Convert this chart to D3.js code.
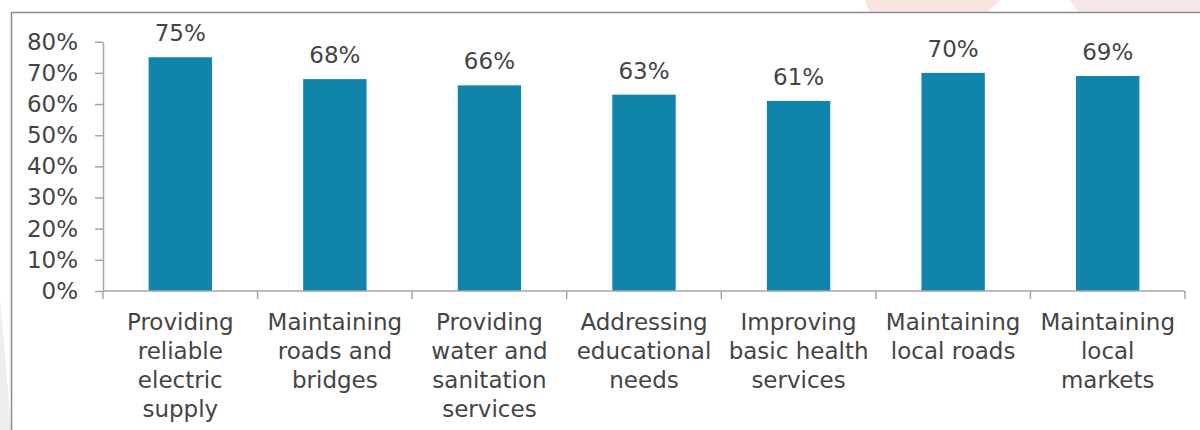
<!DOCTYPE html>
<html>
<head>
<meta charset="utf-8">
<script src="https://cdn.jsdelivr.net/npm/d3@7"></script>
<style>
  body { margin: 0; background: #fff; }
  svg { display: block; }
</style>
</head>
<body>
<svg id="chart" width="1200" height="430"></svg>
<script>
// Data
const categories = [
  "Providing reliable electric supply",
  "Maintaining roads and bridges",
  "Providing water and sanitation services",
  "Addressing educational needs",
  "Improving basic health services",
  "Maintaining local roads",
  "Maintaining local markets"
];
// how each category label wraps
const labelLines = [
  ["Providing", "reliable", "electric", "supply"],
  ["Maintaining", "roads and", "bridges"],
  ["Providing", "water and", "sanitation", "services"],
  ["Addressing", "educational", "needs"],
  ["Improving", "basic health", "services"],
  ["Maintaining", "local roads"],
  ["Maintaining", "local", "markets"]
];
const values = [0.75, 0.68, 0.66, 0.63, 0.61, 0.70, 0.69];
const yTicks = [0, 0.1, 0.2, 0.3, 0.4, 0.5, 0.6, 0.7, 0.8];

const svg = d3.select("#chart"),
  width = +svg.attr("width"),
  height = +svg.attr("height");

const font = "'DejaVu Sans', sans-serif";
const textColor = "#444";
const axisColor = "#a6a6a6";

// faint watermark shapes behind the frame
const bg = svg.append("g");
bg.append("path")
  .attr("d", "M865,0 L1000,0 L985,14 L870,14 Z")
  .attr("fill", "#f6d2cc")
  .attr("opacity", 0.6);
bg.append("path")
  .attr("d", "M1070,0 L1200,0 L1200,14 L1080,14 Z")
  .attr("fill", "#f0d6d6")
  .attr("opacity", 0.6);
bg.append("path")
  .attr("d", "M0,300 Q6,360 11,430 L0,430 Z")
  .attr("fill", "#eeeeee");

// chart frame
svg.append("rect")
  .attr("x", 11.5)
  .attr("y", 12.5)
  .attr("width", 1200)
  .attr("height", 430)
  .attr("fill", "#fff")
  .attr("stroke", "#8c8c8c")
  .attr("stroke-width", 1.5);

// scales
const x = d3.scaleBand()
  .domain(categories)
  .range([103, 1185])
  .paddingInner(0.59)
  .paddingOuter(0.295);

const y = d3.scaleLinear()
  .domain([0, 0.8])
  .range([291, 41.7]);

// y axis
const yAxis = svg.append("g")
  .attr("transform", "translate(103,0)")
  .call(d3.axisLeft(y)
    .tickValues(yTicks)
    .tickFormat(d3.format(".0%"))
    .tickSize(8)
    .tickSizeOuter(0)
    .tickPadding(17));
yAxis.select(".domain").attr("stroke", axisColor).attr("stroke-width", 1.5);
yAxis.selectAll(".tick line").attr("stroke", axisColor).attr("stroke-width", 1.5);
yAxis.selectAll(".tick text")
  .attr("fill", textColor)
  .style("font-family", font)
  .style("font-size", "23px");

// bars
svg.append("g")
  .selectAll("rect")
  .data(values)
  .join("rect")
  .attr("x", (d, i) => x(categories[i]))
  .attr("y", (d) => y(d))
  .attr("width", x.bandwidth())
  .attr("height", (d) => y(0) - y(d))
  .attr("fill", "#1184ab");

// x axis line and band boundary ticks
const x0 = x.range()[0], x1 = x.range()[1];
svg.append("line")
  .attr("x1", x0)
  .attr("x2", x1)
  .attr("y1", y(0))
  .attr("y2", y(0))
  .attr("stroke", axisColor)
  .attr("stroke-width", 1.5);

const bounds = d3.range(categories.length + 1).map((i) => x0 + i * x.step());
svg.append("g")
  .selectAll("line")
  .data(bounds)
  .join("line")
  .attr("x1", (d) => d)
  .attr("x2", (d) => d)
  .attr("y1", y(0))
  .attr("y2", y(0) + 8)
  .attr("stroke", axisColor)
  .attr("stroke-width", 1.5);

// category labels
const catLabels = svg.append("g")
  .selectAll("text")
  .data(categories)
  .join("text")
  .attr("text-anchor", "middle")
  .attr("fill", textColor)
  .style("font-family", font)
  .style("font-size", "23px")
  .attr("transform", (d) => `translate(${x(d) + x.bandwidth() / 2},${y(0) + 39})`);

catLabels.selectAll("tspan")
  .data((d, i) => labelLines[i])
  .join("tspan")
  .attr("x", 0)
  .attr("y", (d, j) => j * 29)
  .text((d) => d);

// value labels
svg.append("g")
  .selectAll("text")
  .data(values)
  .join("text")
  .attr("x", (d, i) => x(categories[i]) + x.bandwidth() / 2)
  .attr("y", (d) => y(d) - 16)
  .attr("text-anchor", "middle")
  .attr("fill", textColor)
  .style("font-family", font)
  .style("font-size", "23px")
  .text((d) => d3.format(".0%")(d));
</script>
</body>
</html>
